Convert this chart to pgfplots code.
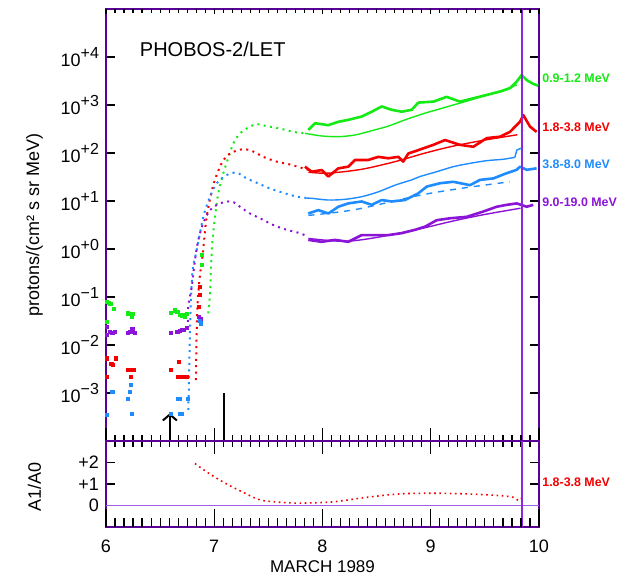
\documentclass[border=0pt]{standalone}
\usepackage{fontspec}
\setmainfont{Liberation Sans}
\usepackage{pgfplots}
\pgfplotsset{compat=1.18}
\usetikzlibrary{arrows.meta}

\definecolor{cgreen}{RGB}{20,235,20}
\definecolor{cred}{RGB}{245,0,0}
\definecolor{cblue}{RGB}{30,140,255}
\definecolor{cpurp}{RGB}{140,20,215}
\definecolor{framec}{RGB}{90,0,150}
\definecolor{vlinec}{RGB}{140,40,220}
\definecolor{zlinec}{RGB}{160,95,230}

% 10^{n} tick labels in the text font
\newcommand{\dec}[1]{10\raisebox{4pt}{\fontsize{8}{8}\selectfont #1}}

\tikzset{lab/.style={anchor=west, inner sep=0pt, xshift=1.5pt,
    font=\fontsize{6.2}{6.2}\selectfont\bfseries}}

\pgfplotsset{
  base/.style={scale only axis, width=216.5pt, xmin=6, xmax=10,
    axis line style={draw=framec, line width=0.9pt},
    tick style={black, line width=0.6pt},
    xtick={6,7,8,9,10}, minor x tick num=11, clip=false},
  tickonly/.style={base, hide y axis, axis line style={draw=none},
    ymin=0, ymax=1, xticklabels={}},
  dots/.style={line width=1pt, dash pattern=on 1pt off 2.2pt, smooth},
  noisy/.style={line width=1.3pt, line join=round},
  fit/.style={line width=0.7pt, smooth},
  pre/.style={only marks, mark=square*, mark size=0.8pt},
}

\begin{document}
\begin{tikzpicture}
\useasboundingbox (-53pt,-25pt) rectangle (257.5pt,263.5pt);

% ---------------- upper panel: log10 flux ----------------
\begin{axis}[base, at={(0,43pt)}, anchor=south west, height=216pt,
  ymin=-4, ymax=5, xtick=\empty,
  ytick={-3,...,4},
  yticklabels={\dec{−3},\dec{−2},\dec{−1},\dec{+0},\dec{+1},\dec{+2},\dec{+3},\dec{+4}},
  ytick pos=both, tick align=inside, major tick length=4.5pt,
  yticklabel style={font=\fontsize{9}{9}\selectfont},
  ylabel={protons/(cm² s sr MeV)},
  ylabel style={at={(axis description cs:-0.165,0.5)}, anchor=center,
    font=\fontsize{9}{9}\selectfont},
]
% pre-event samples
\addplot[pre, cgreen] coordinates {(6.012,-1.10)(6.030,-1.13)(6.040,-1.15)(6.074,-1.24)(6.006,-1.52)
  (6.206,-1.34)(6.230,-1.36)(6.237,-1.41)(6.252,-1.35)(6.600,-1.33)(6.640,-1.28)(6.659,-1.31)
  (6.684,-1.38)(6.700,-1.40)(6.720,-1.38)(6.730,-1.41)(6.751,-1.36)(6.883,-0.12)(6.883,-0.33)};
\addplot[pre, cpurp] coordinates {(6.006,-1.62)(6.010,-1.79)(6.037,-1.72)(6.060,-1.75)(6.083,-1.72)
  (6.206,-1.74)(6.225,-1.72)(6.243,-1.67)(6.268,-1.74)(6.597,-1.74)(6.659,-1.72)(6.680,-1.71)
  (6.699,-1.69)(6.720,-1.68)(6.745,-1.65)(6.859,-1.41)(6.875,-1.45)};
\addplot[pre, cred] coordinates {(6.006,-2.28)(6.010,-2.66)(6.050,-2.40)(6.067,-2.42)(6.092,-2.28)
  (6.206,-2.52)(6.228,-2.66)(6.235,-2.52)(6.259,-2.52)(6.597,-2.52)(6.668,-2.66)(6.677,-2.35)
  (6.690,-2.66)(6.730,-2.66)(6.745,-2.66)(6.860,-1.20)(6.868,-0.79)(6.868,-0.96)};
\addplot[pre, cblue] coordinates {(6.006,-3.46)(6.052,-2.97)(6.067,-2.97)(6.206,-3.13)(6.222,-2.97)
  (6.230,-2.83)(6.237,-3.44)(6.597,-3.44)(6.665,-3.13)(6.684,-3.13)(6.684,-3.44)(6.700,-3.44)
  (6.760,-3.13)(6.868,-1.50)(6.875,-1.55)};

% model curves over the onset (dotted)
\addplot[dots, cgreen] coordinates {(6.945,-1.34)(6.961,-0.92)(6.970,-0.37)(6.982,0.12)(7.007,0.67)
  (7.037,1.16)(7.084,1.58)(7.130,1.90)(7.176,2.20)(7.238,2.41)(7.300,2.51)(7.386,2.60)(7.485,2.56)
  (7.607,2.51)(7.730,2.44)(7.853,2.41)};
\addplot[dots, cred] coordinates {(6.831,-2.73)(6.836,-1.90)(6.845,-1.20)(6.865,-0.60)(6.893,-0.12)
  (6.930,0.67)(6.991,1.33)(7.069,1.79)(7.145,1.99)(7.268,2.08)(7.361,2.03)(7.453,1.92)(7.577,1.82)
  (7.700,1.76)(7.823,1.68)(7.869,1.65)};
\addplot[dots, cblue] coordinates {(6.760,-3.35)(6.767,-2.73)(6.776,-1.69)(6.785,-1.06)(6.800,-0.44)
  (6.838,-0.02)(6.899,0.67)(6.961,1.09)(7.023,1.37)(7.115,1.54)(7.207,1.59)(7.300,1.47)(7.392,1.38)
  (7.515,1.26)(7.638,1.17)(7.762,1.09)(7.869,1.06)};
\addplot[dots, cpurp] coordinates {(6.755,-1.65)(6.760,-1.20)(6.792,-0.79)(6.822,-0.23)(6.853,0.19)
  (6.899,0.54)(6.961,0.81)(7.053,0.95)(7.161,0.99)(7.238,0.88)(7.330,0.74)(7.423,0.64)(7.545,0.50)
  (7.669,0.40)(7.792,0.33)(7.853,0.27)};

% fitted curves (smooth)
\addplot[fit, cgreen] coordinates {(7.838,2.41)(7.993,2.355)(8.146,2.34)(8.300,2.375)(8.455,2.465)
  (8.608,2.56)(8.762,2.69)(8.947,2.83)(9.055,2.90)(9.208,3.00)(9.363,3.10)(9.517,3.21)(9.670,3.31)(9.794,3.42)};
\addplot[fit, cred] coordinates {(7.870,1.60)(8.050,1.58)(8.360,1.66)(8.670,1.82)(8.950,2.00)
  (9.200,2.14)(9.500,2.27)(9.800,2.38)};
\addplot[fit, cblue] coordinates {(7.850,1.06)(7.900,1.056)(8.054,1.02)(8.208,1.035)(8.362,1.09)
  (8.515,1.19)(8.670,1.33)(8.824,1.44)(8.901,1.51)(9.055,1.61)(9.208,1.715)(9.363,1.785)
  (9.517,1.84)(9.670,1.87)(9.778,1.91)};
\addplot[line width=0.7pt, cblue] coordinates {(9.778,1.91)(9.794,2.06)(9.834,2.10)};
\addplot[fit, cblue, dashed] coordinates {(7.870,0.70)(8.300,0.82)(8.900,1.12)(9.300,1.27)(9.730,1.40)};
\addplot[fit, cpurp] coordinates {(7.870,0.22)(8.200,0.16)(8.500,0.24)(8.900,0.42)(9.200,0.58)
  (9.500,0.72)(9.830,0.85)};

% measured intensities
\addplot[noisy, cgreen] coordinates {(7.869,2.48)(7.931,2.62)(8.054,2.58)(8.146,2.65)(8.238,2.69)
  (8.362,2.76)(8.455,2.86)(8.547,2.97)(8.639,2.90)(8.732,2.86)(8.824,2.90)(8.885,3.05)(9.024,3.07)
  (9.147,3.17)(9.270,3.07)(9.393,3.14)(9.517,3.21)(9.640,3.28)(9.732,3.35)(9.794,3.49)(9.840,3.625)
  (9.886,3.52)(9.947,3.44)(9.994,3.40)};
\addplot[noisy, cred] coordinates {(7.838,1.715)(7.900,1.61)(7.993,1.645)(8.054,1.51)(8.146,1.68)
  (8.238,1.715)(8.300,1.855)(8.423,1.855)(8.515,1.92)(8.608,1.89)(8.700,1.92)(8.746,1.82)(8.793,1.99)
  (8.885,2.06)(9.024,2.17)(9.132,2.27)(9.270,2.17)(9.393,2.13)(9.517,2.31)(9.640,2.34)(9.732,2.44)
  (9.824,2.65)(9.855,2.79)(9.917,2.55)(9.978,2.44)};
\addplot[noisy, cblue] coordinates {(7.869,0.74)(7.962,0.81)(8.054,0.74)(8.146,0.88)(8.238,0.95)
  (8.362,0.99)(8.455,0.92)(8.547,1.02)(8.639,0.99)(8.762,1.02)(8.885,1.16)(8.963,1.30)(9.085,1.37)
  (9.208,1.40)(9.363,1.33)(9.455,1.44)(9.578,1.47)(9.702,1.58)(9.794,1.65)(9.824,1.715)(9.886,1.65)
  (9.978,1.68)};
\addplot[noisy, cpurp] coordinates {(7.869,0.19)(7.993,0.15)(8.115,0.19)(8.238,0.15)(8.362,0.29)
  (8.485,0.29)(8.608,0.29)(8.732,0.33)(8.855,0.40)(8.947,0.465)(9.055,0.60)(9.178,0.64)(9.332,0.67)
  (9.485,0.78)(9.609,0.88)(9.702,0.92)(9.794,0.95)(9.886,0.88)(9.947,0.92)};

\draw[draw=vlinec, line width=1pt] (axis cs:9.84,-4) -- (axis cs:9.84,5);
\draw[black, line width=0.6pt] (axis cs:7.09,-4) -- (axis cs:7.09,-3);
\draw[black, line width=1pt, -{Straight Barb[length=3pt,width=7pt]}] (axis cs:6.59,-4) -- (axis cs:6.59,-3.42);
\node[anchor=west, inner sep=0pt, font=\fontsize{10}{10}\selectfont] at (axis cs:6.31,4.15) {PHOBOS-2/LET};
\node[lab, text=cgreen] at (axis cs:10,3.56) {0.9-1.2 MeV};
\node[lab, text=cred] at (axis cs:10,2.54) {1.8-3.8 MeV};
\node[lab, text=cblue] at (axis cs:10,1.77) {3.8-8.0 MeV};
\node[lab, text=cpurp] at (axis cs:10,0.98) {9.0-19.0 MeV};
\end{axis}

% top ticks of the upper panel
\begin{axis}[tickonly, at={(0,43pt)}, anchor=south west, height=216pt,
  xtick pos=right, tick align=inside, major tick length=2.5pt, minor tick length=2pt]
\end{axis}
% ticks across the panel boundary
\begin{axis}[tickonly, at={(0,43pt)}, anchor=south west, height=216pt,
  xtick pos=left, tick align=center, major tick length=13pt, minor tick length=6pt]
\end{axis}

% ---------------- lower panel: A1/A0 ----------------
\begin{axis}[base, at={(0,0)}, anchor=south west, height=43pt,
  ymin=-1, ymax=3, xtick=\empty,
  ytick={0,1,2}, yticklabels={0,+1,+2},
  ytick pos=both, tick align=inside, major tick length=4.5pt,
  yticklabel style={font=\fontsize{9}{9}\selectfont},
  ylabel={A1/A0},
  ylabel style={at={(axis description cs:-0.165,0.465)}, anchor=center,
    font=\fontsize{9}{9}\selectfont},
]
\draw[draw=zlinec, line width=0.8pt] (axis cs:6,0) -- (axis cs:10,0);
\addplot[cred, line width=0.8pt, dash pattern=on 0.8pt off 1.8pt, smooth] coordinates {
  (6.822,1.95)(6.961,1.46)(7.115,1.00)(7.268,0.61)(7.423,0.26)(7.607,0.15)(7.792,0.11)(8.100,0.17)
  (8.408,0.38)(8.716,0.54)(9.024,0.57)(9.332,0.54)(9.640,0.46)(9.763,0.38)(9.809,0.23)(9.840,0.34)};
\draw[draw=vlinec, line width=1pt] (axis cs:9.84,-1) -- (axis cs:9.84,3);
\node[lab, text=cred] at (axis cs:10,1.1) {1.8-3.8 MeV};
\end{axis}

% bottom ticks, day labels and axis title
\begin{axis}[base, hide y axis, axis line style={draw=none}, ymin=0, ymax=1,
  at={(0,0)}, anchor=south west, height=43pt,
  xtick pos=left, tick align=inside, major tick length=9pt, minor tick length=4.5pt,
  xticklabels={6,7,8,9,10},
  xticklabel style={font=\fontsize{9}{9}\selectfont, yshift=-3pt},
  xlabel={MARCH 1989},
  xlabel style={at={(axis description cs:0.5,0)}, anchor=center, yshift=-20pt,
    font=\fontsize{8.5}{8.5}\selectfont},
]
\end{axis}
\end{tikzpicture}
\end{document}
